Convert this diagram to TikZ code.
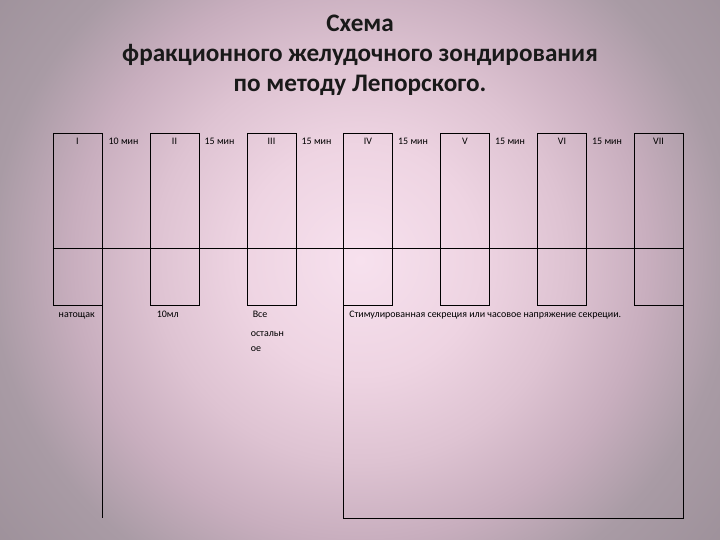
\documentclass[tikz,border=0pt]{standalone}
\usepackage{fontspec}
\setmainfont{Carlito}
\usepackage{xcolor}
\usetikzlibrary{positioning}

\definecolor{bgin}{HTML}{F7E1EE}
\definecolor{bglight}{HTML}{EED4E2}
\definecolor{bgmid}{HTML}{DEC3D2}
\definecolor{bgdark}{HTML}{C8AEBE}
\definecolor{bgedge}{HTML}{A99BA5}
\definecolor{bgout}{HTML}{968A93}
\pgfdeclareradialshading{slidebg}{\pgfpoint{0bp}{0bp}}{color(0bp)=(bgin); color(8bp)=(bglight); color(14bp)=(bgmid); color(19.5bp)=(bgdark); color(25bp)=(bgedge); color(36bp)=(bgout); color(50bp)=(bgout)}

\tikzset{
  slot/.style={draw, line width=0.9bp, minimum width=49bp, minimum height=172bp, inner sep=0pt},
  rule/.style={line width=0.9bp},
  tag/.style={font=\fontsize{10}{15}\selectfont, inner sep=0pt, text=black},
  head/.style={font=\bfseries\fontsize{25.3}{30}\selectfont, align=center, inner sep=0pt, text=black!90}
}

\begin{document}
\begin{tikzpicture}[x=1bp, y=-1bp]
  \useasboundingbox (0,0) rectangle (720,540);
  \begin{scope}
    \clip (0,0) rectangle (720,540);
    \shade[shading=slidebg] (-10,-100) rectangle (730,620);
  \end{scope}
  \node[head] (title) at (360,55) {Схема\\фракционного желудочного зондирования\\по методу Лепорского.};
  \node[slot] (s1) at (77.5,219) {};
  \node[slot] (s2) at (174.5,219) {};
  \node[slot] (s3) at (271.5,219) {};
  \node[slot] (s4) at (368,219) {};
  \node[slot] (s5) at (465,219) {};
  \node[slot] (s6) at (562,219) {};
  \node[slot] (s7) at (658.5,219) {};
  \coordinate (mid) at (0,248);
  \coordinate (foot) at (0,518);
  \draw[rule] (s1.west |- mid) -- (s7.east |- mid);
  \draw[rule] (s1.south east) -- (s1.south east |- foot);
  \draw[rule] (s4.south west) -- (s4.south west |- foot) -- (s7.south east |- foot) -- (s7.south east);
  \node[tag, anchor=base] (n1) at ([yshift=-12bp]s1.north) {I};
  \node[tag, anchor=base] (n2) at ([yshift=-12bp]s2.north) {II};
  \node[tag, anchor=base] (n3) at ([yshift=-12bp]s3.north) {III};
  \node[tag, anchor=base] (n4) at ([yshift=-12bp]s4.north) {IV};
  \node[tag, anchor=base] (n5) at ([yshift=-12bp]s5.north) {V};
  \node[tag, anchor=base] (n6) at ([yshift=-12bp]s6.north) {VI};
  \node[tag, anchor=base] (n7) at ([yshift=-12bp]s7.north) {VII};
  \node[tag, anchor=base west] (t1) at ([xshift=6bp]s1.east |- n1.base) {10 мин};
  \node[tag, anchor=base west] (t2) at ([xshift=5bp]s2.east |- n2.base) {15 мин};
  \node[tag, anchor=base west] (t3) at ([xshift=5bp]s3.east |- n3.base) {15 мин};
  \node[tag, anchor=base west] (t4) at ([xshift=5bp]s4.east |- n4.base) {15 мин};
  \node[tag, anchor=base west] (t5) at ([xshift=5bp]s5.east |- n5.base) {15 мин};
  \node[tag, anchor=base west] (t6) at ([xshift=5bp]s6.east |- n6.base) {15 мин};
  \node[tag, anchor=base west] (empty) at ([xshift=6bp,yshift=-12bp]s1.south west) {натощак};
  \node[tag, anchor=base west] (dose) at ([xshift=7bp,yshift=-12bp]s2.south west) {10мл};
  \node[tag, anchor=base west] (all) at ([xshift=6bp,yshift=-12bp]s3.south west) {Все};
  \node[tag, anchor=north west, align=left] (rest) at ([xshift=4bp,yshift=-26bp]s3.south west) {остальн\\ое};
  \node[tag, anchor=base west] (stim) at ([xshift=6bp,yshift=-12bp]s4.south west) {Стимулированная секреция или часовое напряжение секреции.};
\end{tikzpicture}
\end{document}
